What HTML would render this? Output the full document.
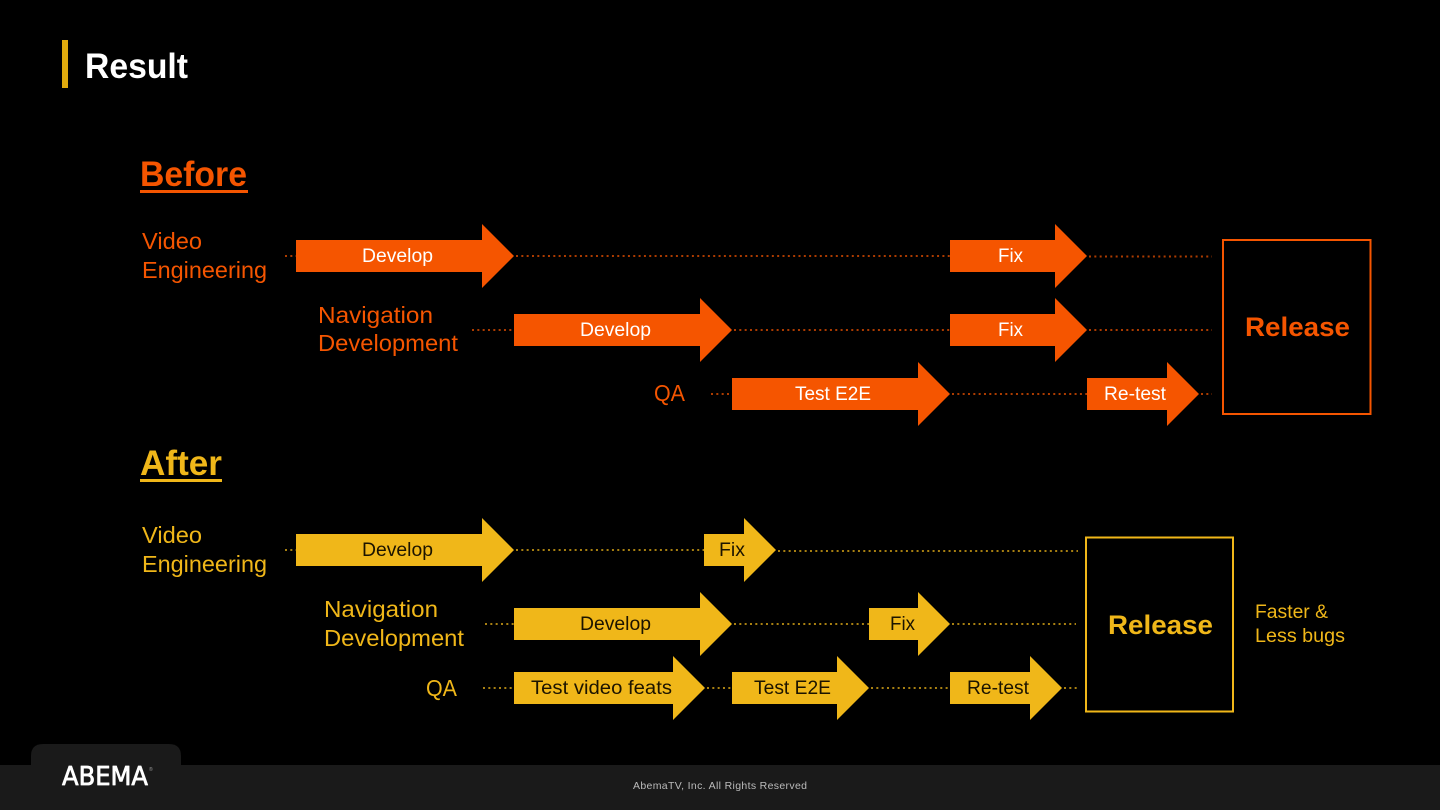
<!DOCTYPE html>
<html lang="en">
<head>
<meta charset="utf-8">
<title>Result</title>
<style>
html,body{margin:0;padding:0;background:#000;width:1440px;height:810px;overflow:hidden}
svg{display:block}
text{font-family:"Liberation Sans",sans-serif}
.o{fill:#f55500}
.y{fill:#f0b719}
.l{font-size:23px}
.a{font-size:19px}
.w{fill:#fff}
.k{fill:#1c1400}
.b{font-weight:bold}
.do{stroke:#f55500;stroke-width:2;stroke-dasharray:2 3.330;opacity:.7;fill:none}
.dy{stroke:#f0b719;stroke-width:2;stroke-dasharray:2 3.330;opacity:.7;fill:none}
</style>
</head>
<body>
<svg width="1440" height="810" viewBox="0 0 1440 810" xmlns="http://www.w3.org/2000/svg">
<rect width="1440" height="810" fill="#000"/>

<!-- header -->
<rect x="62" y="40" width="6" height="48" fill="#e0aa0d"/>
<text x="85" y="78" class="w b" font-size="35" textLength="103" lengthAdjust="spacingAndGlyphs">Result</text>

<!-- Before -->
<text x="140" y="186" class="o b" font-size="35" textLength="107" lengthAdjust="spacingAndGlyphs">Before</text>
<rect x="140" y="190" width="108" height="3" fill="#f55500"/>

<g class="do">
<path d="M285 256H296"/>
<path d="M516 256H950"/>
<path d="M1089 256.500H1212"/>
<path d="M472 330H514"/>
<path d="M734 330H950"/>
<path d="M1089 330H1212"/>
<path d="M711 394H732"/>
<path d="M952 394H1087"/>
<path d="M1201 394H1212"/>
</g>

<g fill="#f55500">
<path d="M296 240H482V224L514 256L482 288V272H296Z"/>
<path d="M950 240H1055V224L1087 256L1055 288V272H950Z"/>
<path d="M514 314H700V298L732 330L700 362V346H514Z"/>
<path d="M950 314H1055V298L1087 330L1055 362V346H950Z"/>
<path d="M732 378H918V362L950 394L918 426V410H732Z"/>
<path d="M1087 378H1167V362L1199 394L1167 426V410H1087Z"/>
</g>

<text x="142" y="249" class="o l" textLength="60" lengthAdjust="spacingAndGlyphs">Video</text>
<text x="142" y="278" class="o l" textLength="125" lengthAdjust="spacingAndGlyphs">Engineering</text>
<text x="318" y="323" class="o l" textLength="115" lengthAdjust="spacingAndGlyphs">Navigation</text>
<text x="318" y="351" class="o l" textLength="140" lengthAdjust="spacingAndGlyphs">Development</text>
<text x="654" y="401" class="o l" textLength="31" lengthAdjust="spacingAndGlyphs">QA</text>

<text x="362" y="262" class="w a" textLength="71" lengthAdjust="spacingAndGlyphs">Develop</text>
<text x="998" y="262" class="w a" textLength="25" lengthAdjust="spacingAndGlyphs">Fix</text>
<text x="580" y="336" class="w a" textLength="71" lengthAdjust="spacingAndGlyphs">Develop</text>
<text x="998" y="336" class="w a" textLength="25" lengthAdjust="spacingAndGlyphs">Fix</text>
<text x="795" y="400" class="w a" textLength="76" lengthAdjust="spacingAndGlyphs">Test E2E</text>
<text x="1104" y="400" class="w a" textLength="62" lengthAdjust="spacingAndGlyphs">Re-test</text>

<rect x="1223" y="240" width="147.500" height="174" fill="none" stroke="#f55500" stroke-width="2"/>
<text x="1245" y="336" class="o b" font-size="27" textLength="105" lengthAdjust="spacingAndGlyphs">Release</text>

<!-- After -->
<text x="140" y="475" class="y b" font-size="35" textLength="82" lengthAdjust="spacingAndGlyphs">After</text>
<rect x="140" y="479" width="82" height="3" fill="#f0b719"/>

<g class="dy">
<path d="M285 550H296"/>
<path d="M516 550H704"/>
<path d="M778 551H1078"/>
<path d="M485 624H514"/>
<path d="M734 624H869"/>
<path d="M952 624H1076"/>
<path d="M483 688H514"/>
<path d="M707 688H732"/>
<path d="M871 688H950"/>
<path d="M1064 688H1078"/>
</g>

<g fill="#f0b719">
<path d="M296 534H482V518L514 550L482 582V566H296Z"/>
<path d="M704 534H744V518L776 550L744 582V566H704Z"/>
<path d="M514 608H700V592L732 624L700 656V640H514Z"/>
<path d="M869 608H918V592L950 624L918 656V640H869Z"/>
<path d="M514 672H673V656L705 688L673 720V704H514Z"/>
<path d="M732 672H837V656L869 688L837 720V704H732Z"/>
<path d="M950 672H1030V656L1062 688L1030 720V704H950Z"/>
</g>

<text x="142" y="543" class="y l" textLength="60" lengthAdjust="spacingAndGlyphs">Video</text>
<text x="142" y="572" class="y l" textLength="125" lengthAdjust="spacingAndGlyphs">Engineering</text>
<text x="324" y="617" class="y l" textLength="114" lengthAdjust="spacingAndGlyphs">Navigation</text>
<text x="324" y="646" class="y l" textLength="140" lengthAdjust="spacingAndGlyphs">Development</text>
<text x="426" y="696" class="y l" textLength="31" lengthAdjust="spacingAndGlyphs">QA</text>

<text x="362" y="556" class="k a" textLength="71" lengthAdjust="spacingAndGlyphs">Develop</text>
<text x="719" y="556" class="k a" textLength="26" lengthAdjust="spacingAndGlyphs">Fix</text>
<text x="580" y="630" class="k a" textLength="71" lengthAdjust="spacingAndGlyphs">Develop</text>
<text x="890" y="630" class="k a" textLength="25" lengthAdjust="spacingAndGlyphs">Fix</text>
<text x="531" y="694" class="k a" textLength="141" lengthAdjust="spacingAndGlyphs">Test video feats</text>
<text x="754" y="694" class="k a" textLength="77" lengthAdjust="spacingAndGlyphs">Test E2E</text>
<text x="967" y="694" class="k a" textLength="62" lengthAdjust="spacingAndGlyphs">Re-test</text>

<rect x="1086" y="537.500" width="147" height="174" fill="none" stroke="#f0b719" stroke-width="2"/>
<text x="1108" y="634" class="y b" font-size="27" textLength="105" lengthAdjust="spacingAndGlyphs">Release</text>

<text x="1255" y="618" class="y" font-size="19" textLength="73" lengthAdjust="spacingAndGlyphs">Faster &amp;</text>
<text x="1255" y="642" class="y" font-size="19" textLength="90" lengthAdjust="spacingAndGlyphs">Less bugs</text>

<!-- footer -->
<rect x="0" y="765" width="1440" height="45" fill="#1a1a1a"/>
<path d="M31 766V756Q31 744 43 744H169Q181 744 181 756V766Z" fill="#1a1a1a"/>
<text x="62" y="785" class="w" font-size="26" stroke="#fff" stroke-width="0.800" stroke-linejoin="round" textLength="86" lengthAdjust="spacingAndGlyphs" style="font-family:'DejaVu Sans',sans-serif">ABEMA</text>
<text x="149" y="771" fill="#999" font-size="5">®</text>
<text x="633" y="789" fill="#bbb" font-size="10.500" textLength="174" lengthAdjust="spacing">AbemaTV, Inc. All Rights Reserved</text>
</svg>
</body>
</html>
